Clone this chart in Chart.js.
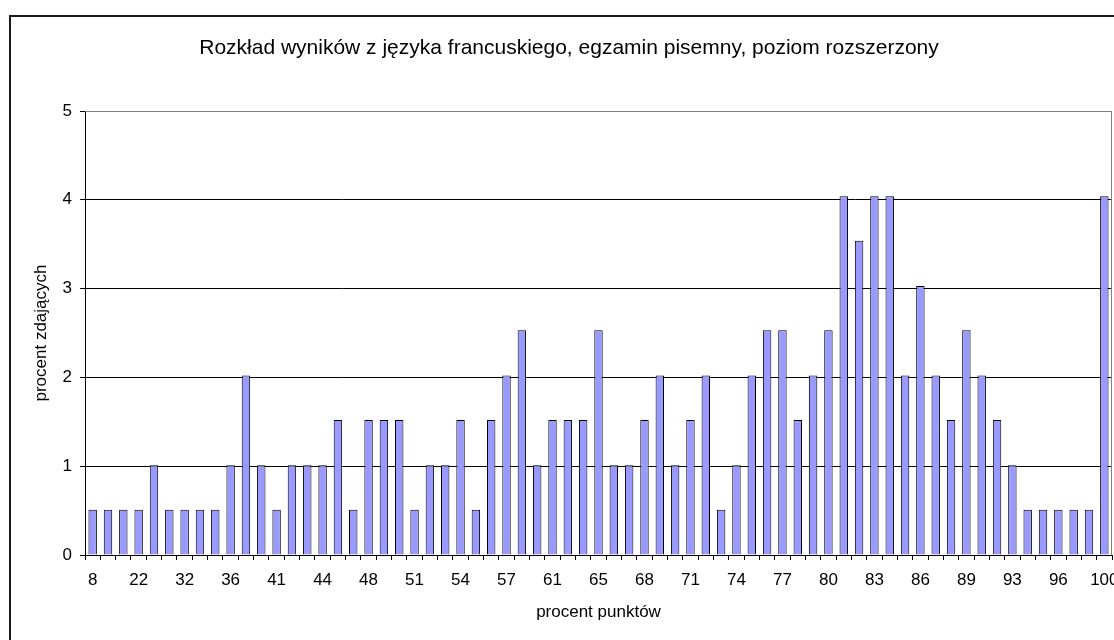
<!DOCTYPE html>
<html lang="pl">
<head>
  <meta charset="UTF-8">
  <title>Rozkład wyników</title>
  <style>
    body, html { margin:0; padding:0; overflow:hidden; background:#fff; width:1114px; height:640px; }
    #frame { position:absolute; left:9px; top:15px; width:1200px; height:700px; border:2px solid #1a1a1a; }
    canvas#chart { position:absolute; left:0; top:0; }
  </style>
</head>
<body>
  <div id="frame"></div>
  <canvas id="chart" width="1140" height="640"></canvas>

  <script src="https://cdn.jsdelivr.net/npm/chart.js"></script>
  <script>
    // score categories (only every third one is labelled on the axis)
    const categories = [
      8, 14, 19, 22, 26, 29, 32, 33, 35, 36, 38, 39, 41, 42, 43, 44, 45, 46,
      48, 49, 50, 51, 52, 53, 54, 55, 56, 57, 58, 59, 61, 62, 64, 65, 66, 67,
      68, 69, 70, 71, 72, 73, 74, 75, 76, 77, 78, 79, 80, 81, 82, 83, 84, 85,
      86, 87, 88, 89, 90, 92, 93, 94, 95, 96, 97, 99, 100
    ];
    // percent of candidates
    const shares = [
      0.51, 0.51, 0.51, 0.51, 1.01, 0.51, 0.51, 0.51, 0.51, 1.01, 2.02, 1.01, 0.51, 1.01, 1.01, 1.01, 1.52,
      0.51, 1.52, 1.52, 1.52, 0.51, 1.01, 1.01, 1.52, 0.51, 1.52, 2.02, 2.53, 1.01, 1.52, 1.52, 1.52, 2.53,
      1.01, 1.01, 1.52, 2.02, 1.01, 1.52, 2.02, 0.51, 1.01, 2.02, 2.53, 2.53, 1.52, 2.02, 2.53, 4.04, 3.54,
      4.04, 4.04, 2.02, 3.03, 2.02, 1.52, 2.53, 2.02, 1.52, 1.01, 0.51, 0.51, 0.51, 0.51, 0.51, 4.04
    ];
    const yTicks = [0, 1, 2, 3, 4, 5];

    const font = { family: '"Liberation Sans", Arial, sans-serif', size: 17 };
    Chart.defaults.color = '#000';
    Chart.defaults.font.family = font.family;

    // gray top/right edge of the plot area
    const plotFrame = {
      id: 'plotFrame',
      afterDraw(chart) {
        const { ctx, chartArea: a } = chart;
        ctx.save();
        ctx.strokeStyle = '#808080';
        ctx.lineWidth = 1;
        ctx.beginPath();
        ctx.moveTo(a.left, a.top + 0.5);
        ctx.lineTo(a.right - 0.5, a.top + 0.5);
        ctx.lineTo(a.right - 0.5, a.bottom);
        ctx.stroke();
        ctx.restore();
      }
    };

    new Chart(document.getElementById('chart'), {
      type: 'bar',
      data: {
        labels: categories,
        datasets: [{
          data: shares,
          backgroundColor: '#9999FF',
          borderColor: '#000',
          borderWidth: 1,
          barPercentage: 0.55,
          categoryPercentage: 1
        }]
      },
      options: {
        responsive: false,
        animation: false,
        devicePixelRatio: 1,
        layout: { padding: { left: 26, right: 28, top: 0, bottom: 0 } },
        plugins: {
          legend: { display: false },
          tooltip: { enabled: false },
          title: {
            display: true,
            text: 'Rozkład wyników z języka francuskiego, egzamin pisemny, poziom rozszerzony',
            color: '#000',
            font: { family: font.family, size: 21, weight: 'normal' },
            padding: { top: 36, bottom: 49.8 }
          }
        },
        scales: {
          x: {
            afterFit(s) { s.height = 85; },
            grid: { display: true, drawOnChartArea: false, drawTicks: true, tickLength: 5, color: '#000', offset: true },
            border: { color: '#000', width: 1 },
            ticks: {
              autoSkip: false, maxRotation: 0, padding: 10, font,
              callback: (v, i) => (i % 3 === 0 ? String(categories[i]) : '')
            },
            title: { display: true, text: 'procent punktów', font, padding: { top: 0, bottom: 17 } }
          },
          y: {
            min: 0, max: 5,
            afterFit(s) { s.width = 59; },
            afterBuildTicks(s) { s.ticks = yTicks.map(v => ({ value: v })); },
            grid: {
              color: c => (c.tick && c.tick.value === 5 ? '#808080' : '#000'),
              tickColor: '#000', tickLength: 5, lineWidth: 1
            },
            border: { color: '#000', width: 1 },
            ticks: { padding: 8, font },
            title: { display: true, text: 'procent zdających', font, padding: { top: 5, bottom: 0 } }
          }
        }
      },
      plugins: [plotFrame]
    });
  </script>
</body>
</html>
